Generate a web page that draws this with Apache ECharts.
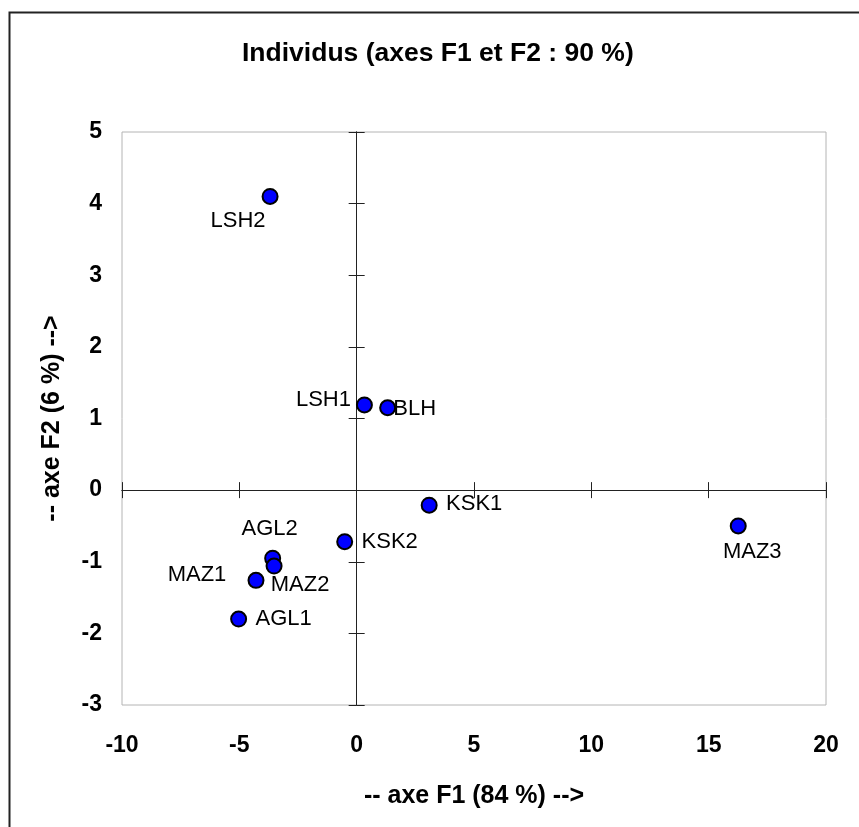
<!DOCTYPE html>
<html lang="fr">
<head>
    <meta charset="UTF-8">
    <script src="https://cdn.jsdelivr.net/npm/echarts@6/dist/echarts.min.js"></script>
    <style>
        html, body { margin: 0; padding: 0; background: #fff; }
    </style>
</head>
<body>
<div style="width: 859px;height: 827px" id="chart"></div>

<script>
    // individus sur le plan F1 / F2
    var names = ['LSH2', 'LSH1', 'BLH', 'KSK1', 'MAZ3', 'KSK2', 'AGL2', 'MAZ2', 'MAZ1', 'AGL1']
    var f1 = [-3.69, 0.33, 1.32, 3.09, 16.26, -0.51, -3.58, -3.52, -4.29, -5.03]
    var f2 = [4.10, 1.19, 1.15, -0.21, -0.50, -0.72, -0.95, -1.06, -1.26, -1.80]
    // decalage des etiquettes (px)
    var labelOffsets = [[-32, 24], [-41, -5], [27, 1], [45, -1], [14, 26], [45, 0], [-3, -29], [26, 19], [-59, -5], [45, 0]]

    var font = "'Liberation Sans', Arial, sans-serif"

    var points = []
    names.forEach(function (n, i) {
        points.push({
            name: n,
            value: [f1[i], f2[i]],
            label: { offset: labelOffsets[i] }
        })
    })

    var chartDom = document.getElementById('chart');
    var myChart = echarts.init(chartDom);

    // axe passant par zero, avec graduations de part et d'autre
    function zeroAxis(dim, tickInside) {
        var isX = dim === 'x'
        return {
            type: 'value',
            min: isX ? -10 : -3,
            max: isX ? 20 : 5,
            interval: isX ? 5 : 1,
            position: isX ? 'bottom' : 'left',
            axisLine: { show: true, onZero: true, onZeroAxisIndex: 0, lineStyle: { color: '#222', width: 1 } },
            axisTick: { show: true, inside: tickInside, length: 8, lineStyle: { color: '#222', width: 1 } },
            axisLabel: { show: false },
            splitLine: { show: false }
        }
    }

    var option = {
        animation: false,
        backgroundColor: '#fff',
        title: {
            text: 'Individus (axes F1 et F2 : 90 %)',
            left: 242,
            top: 40,
            padding: 0,
            textStyle: { fontFamily: font, fontSize: 26.5, fontWeight: 'bold', color: '#000' }
        },
        graphic: [{
            type: 'rect',
            left: 7,
            top: 10,
            shape: { width: 900, height: 900 },
            style: { fill: 'none', stroke: '#222', lineWidth: 2 },
            z: -1
        }],
        grid: {
            left: 122,
            right: 33,
            top: 132,
            bottom: 122,
            show: true,
            borderColor: '#b4b4b4',
            borderWidth: 1,
            backgroundColor: 'transparent'
        },
        xAxis: [{
            type: 'value',
            min: -10,
            max: 20,
            interval: 5,
            position: 'bottom',
            name: '-- axe F1 (84 %) -->',
            nameLocation: 'middle',
            nameGap: 79,
            nameTextStyle: { fontFamily: font, fontSize: 25, fontWeight: 'bold', color: '#000' },
            axisLine: { show: false, onZero: false },
            axisTick: { show: false },
            axisLabel: { fontFamily: font, fontSize: 23, fontWeight: 'bold', color: '#000', margin: 29 },
            splitLine: { show: false }
        }, zeroAxis('x', true), zeroAxis('x', false)],
        yAxis: [{
            type: 'value',
            min: -3,
            max: 5,
            interval: 1,
            position: 'left',
            name: '-- axe F2 (6 %) -->',
            nameLocation: 'middle',
            nameGap: 57,
            nameTextStyle: { fontFamily: font, fontSize: 25, fontWeight: 'bold', color: '#000' },
            axisLine: { show: false, onZero: false },
            axisTick: { show: false },
            axisLabel: { fontFamily: font, fontSize: 23, fontWeight: 'bold', color: '#000', margin: 20 },
            splitLine: { show: false }
        }, zeroAxis('y', true), zeroAxis('y', false)],
        series: [{
            type: 'scatter',
            xAxisIndex: 0,
            yAxisIndex: 0,
            symbol: 'circle',
            symbolSize: 15,
            itemStyle: { color: '#0000ff', borderColor: '#000', borderWidth: 2, opacity: 1 },
            label: {
                show: true,
                position: 'inside',
                formatter: '{b}',
                fontFamily: font,
                fontSize: 22,
                color: '#000'
            },
            emphasis: { disabled: true },
            data: points,
            z: 5
        }]
    };

    option && myChart.setOption(option);
</script>
</body>
</html>
